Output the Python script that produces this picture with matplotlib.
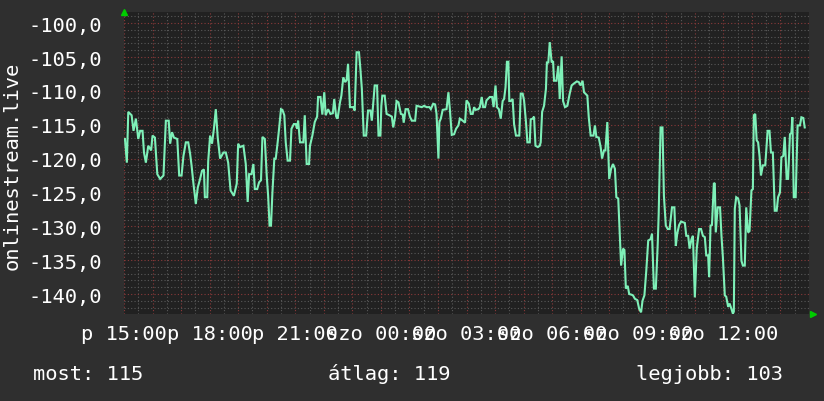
import matplotlib
matplotlib.use("Agg")
import matplotlib.pyplot as plt
from matplotlib.ticker import MultipleLocator, FuncFormatter

# minutes after Friday 15:00
time_min = [2, 6, 9, 16, 20, 25, 30, 34, 39, 42, 46, 51, 57, 60, 65, 70, 76, 83, 88, 94,
            97, 101, 105, 112, 116, 121, 125, 130, 135, 139, 142, 146, 151, 155, 160, 164, 168, 170, 175, 177,
            181, 185, 189, 193, 197, 202, 209, 214, 219, 224, 231, 237,
            240, 244, 251, 256, 260, 263, 268, 272, 275, 280, 284, 288, 291, 296, 300, 303, 306, 309,
            312, 316, 319, 323, 326, 330, 333, 337, 340, 344, 349, 352, 357, 361, 364, 366, 370, 377, 380, 384,
            389, 391, 396, 401, 406, 408, 413, 417, 421, 424, 429, 434, 439, 442, 446, 449, 454, 457, 461, 465,
            468, 471, 475, 482,
            485, 489, 494, 497, 500, 504, 509, 513, 518, 521, 524, 527, 532, 535, 539, 541, 543, 548, 552, 558,
            563, 566, 570, 573, 577, 582, 586, 588, 592, 597, 601, 605, 612, 615, 621, 626, 631, 636, 642, 645,
            650, 654, 657, 661, 663, 666, 670, 678, 682, 685, 689, 694, 698, 703, 706, 712, 717,
            720, 725, 729, 733, 736, 739, 745, 748, 752, 755, 759, 762, 769, 774, 777, 781, 784, 788, 792, 796,
            799, 802, 805, 808, 810, 813, 817, 820, 824, 831, 834, 838, 841, 845, 848, 853, 855, 859, 862, 865,
            870, 874, 876, 879, 883, 887, 889, 892, 895, 899, 902, 904, 909, 913, 916, 920, 923, 927, 932, 937,
            941, 946, 952, 956, 960, 964, 967,
            974, 977, 981, 987, 990, 993, 998, 1002, 1005, 1009, 1012, 1016, 1020, 1024, 1028, 1032, 1035, 1039, 1042, 1045,
            1049, 1052, 1055, 1059, 1062, 1067, 1070, 1074, 1079, 1083, 1087, 1090, 1094, 1098, 1102, 1107, 1110, 1114, 1118, 1122,
            1124, 1128, 1132, 1135, 1139, 1143, 1147, 1152, 1157, 1160, 1163, 1167, 1171, 1179, 1182, 1186, 1189, 1193, 1196, 1200,
            1204, 1209,
            1213, 1217, 1221, 1224, 1228, 1230, 1233, 1236, 1240, 1242, 1244, 1248, 1253, 1256, 1259, 1263, 1266, 1270, 1273, 1277,
            1280, 1282, 1284, 1287, 1291, 1294, 1298, 1301, 1305, 1308, 1312, 1315, 1319, 1322, 1324, 1327, 1330, 1333, 1336, 1339,
            1343, 1348, 1353, 1357, 1360, 1364, 1368, 1372, 1375, 1379, 1382, 1386, 1389, 1393, 1396, 1400, 1403, 1405, 1408, 1412,
            1416, 1421, 1424, 1428, 1431]

level = [-117.1, -120.6, -113.1, -113.6, -115.9, -114.1, -117.1, -115.9, -115.9, -119.1, -120.6, -118.1, -118.8, -116.6, -116.9, -122.3, -123.0, -122.5, -114.4, -114.4,
         -117.8, -116.1, -116.9, -117.1, -122.5, -122.5, -119.6, -117.6, -117.6, -119.3, -121.0, -123.7, -126.7, -124.3, -123.0, -121.8, -121.6, -125.7, -125.7, -120.4,
         -116.6, -117.8, -115.6, -112.7, -116.9, -120.0, -119.1, -119.1, -120.6, -124.7, -125.5, -123.7,
         -117.8, -118.3, -118.1, -120.8, -126.4, -122.3, -122.3, -120.8, -124.5, -124.5, -123.5, -123.2, -116.8, -117.1, -122.5, -125.5, -129.9, -129.9,
         -125.0, -120.0, -120.0, -117.6, -115.6, -112.7, -112.8, -113.6, -117.6, -120.3, -120.3, -115.6, -114.9, -114.9, -115.6, -114.4, -117.6, -117.6, -113.6, -120.8,
         -120.8, -118.1, -116.6, -114.6, -113.8, -110.9, -110.9, -113.5, -110.2, -113.6, -112.7, -113.4, -113.3, -111.2, -113.8, -114.1, -111.7, -110.7, -108.0, -108.7,
         -108.4, -106.0, -112.4, -112.4,
         -112.9, -104.3, -104.3, -106.8, -109.7, -116.6, -116.6, -112.9, -112.9, -114.4, -111.7, -109.2, -109.2, -116.6, -116.6, -112.2, -110.7, -110.7, -113.4, -113.6,
         -113.8, -115.4, -113.8, -111.5, -111.7, -113.4, -113.5, -114.7, -112.7, -112.7, -113.8, -114.4, -114.4, -112.2, -112.3, -112.4, -112.2, -112.4, -112.4, -112.7,
         -111.9, -112.0, -113.4, -120.0, -114.6, -114.1, -112.8, -112.7, -110.2, -112.7, -116.5, -116.4, -115.6, -115.1, -114.1, -114.4, -114.7,
         -111.4, -111.9, -113.4, -113.4, -112.4, -112.8, -112.7, -112.4, -110.9, -112.4, -112.4, -111.4, -110.9, -110.9, -112.4, -109.2, -112.4, -112.7, -114.1, -111.5,
         -111.2, -109.5, -105.7, -105.7, -111.5, -111.5, -111.2, -114.9, -116.6, -116.6, -110.4, -110.4, -111.4, -114.6, -117.6, -117.6, -114.2, -114.1, -113.8, -118.1,
         -118.3, -118.1, -117.6, -113.1, -112.2, -109.7, -105.8, -105.8, -102.8, -105.8, -105.6, -108.5, -108.5, -106.3, -111.2, -104.9, -111.5, -112.4, -112.2, -110.4,
         -109.2, -108.9, -108.6, -108.7, -109.2, -108.5, -110.2,
         -110.7, -113.9, -116.6, -116.6, -115.1, -116.8, -116.9, -118.3, -120.0, -118.8, -118.8, -114.6, -123.0, -121.5, -120.8, -121.5, -125.7, -125.9, -130.9, -135.8,
         -133.3, -133.5, -139.2, -138.8, -140.0, -140.1, -140.2, -140.7, -140.9, -142.2, -142.7, -141.0, -140.2, -136.5, -132.1, -131.9, -131.1, -139.2, -139.2, -132.6,
         -128.2, -115.4, -115.4, -125.5, -129.9, -130.4, -130.4, -127.2, -127.2, -132.9, -131.1, -129.8, -129.3, -129.5, -131.4, -131.4, -133.3, -131.9, -131.4, -140.5,
         -133.3, -130.4,
         -130.4, -131.4, -131.6, -134.3, -134.3, -137.5, -129.9, -129.8, -123.6, -123.7, -130.9, -127.2, -127.2, -131.4, -134.6, -140.2, -140.4, -141.9, -141.4, -142.2,
         -142.9, -142.6, -127.4, -125.7, -125.9, -126.9, -135.1, -135.8, -135.8, -127.2, -130.9, -130.7, -124.7, -124.5, -113.6, -113.4, -117.3, -117.6, -119.6, -122.5,
         -121.0, -121.0, -115.9, -115.9, -119.1, -119.1, -127.7, -127.7, -125.7, -125.0, -119.8, -119.6, -116.8, -123.0, -123.0, -116.4, -116.2, -113.9, -125.7, -125.7,
         -115.1, -115.1, -113.9, -114.0, -115.4]

tick_min = [0, 180, 360, 540, 720, 900, 1080, 1260]
tick_labels = ["p 15:00", "p 18:00", "p 21:00", "szo 00:00", "szo 03:00",
               "szo 06:00", "szo 09:00", "szo 12:00"]

y_label = "onlinestream.live"
summary_names = ["most", "átlag", "legjobb"]
summary_values = [115, 119, 103]

mono = "DejaVu Sans Mono"
fs = 14.7

fig = plt.figure(figsize=(8.24, 4.02), dpi=100, facecolor="#2f2f2f")
ax = fig.add_axes([124 / 824, 1 - 315 / 402, 685 / 824, 302 / 402])
ax.set_facecolor("#212121")

ax.set_xlim(0, 1440)
ax.set_ylim(-142.95, -98.35)

# grid: gray every 30 min / 1 unit, red every hour / 5 units
ax.xaxis.set_minor_locator(MultipleLocator(30))
ax.xaxis.set_major_locator(MultipleLocator(60))
ax.yaxis.set_minor_locator(MultipleLocator(1))
ax.yaxis.set_major_locator(MultipleLocator(5))
ax.grid(which="minor", color="#595959", linestyle=(0, (1, 2)), linewidth=0.8)
ax.grid(which="major", color="#8a3a3a", linestyle=(0, (1, 2)), linewidth=0.8)
ax.set_axisbelow(True)

ax.plot(time_min, level, color="#7ef0b8", linewidth=1.5, solid_joinstyle="miter")

# x labels only every 3 hours
ax.set_xticks(tick_min, minor=False)
ax.xaxis.set_major_locator(MultipleLocator(60))
lab = dict(zip(tick_min, tick_labels))
ax.xaxis.set_major_formatter(FuncFormatter(lambda v, p: lab.get(int(round(v)), "")))
ax.yaxis.set_major_formatter(FuncFormatter(lambda v, p: ("%.1f" % v).replace(".", ",")))

ax.tick_params(which="both", length=0, colors="white", labelsize=fs)
ax.tick_params(axis="x", pad=7)
ax.tick_params(axis="y", pad=16)
for t in ax.get_xticklabels() + ax.get_yticklabels():
    t.set_fontfamily(mono)

for s in ax.spines.values():
    s.set_visible(False)

# small green arrows at the axis ends
ax.plot([0], [1], marker="^", color="#00cc00", markersize=5, transform=ax.transAxes, clip_on=False)
ax.plot([1.006], [0], marker=">", color="#00cc00", markersize=5, transform=ax.transAxes, clip_on=False)

fig.text(12 / 824, 1 - 166 / 402, y_label, rotation=90, ha="center", va="center",
         color="white", fontsize=fs, fontfamily=mono)

xs = [33, 328, 636]
for x, n, v in zip(xs, summary_names, summary_values):
    fig.text(x / 824, 1 - 380 / 402, "%s: %d" % (n, v), ha="left", va="baseline",
             color="white", fontsize=fs, fontfamily=mono)

fig.savefig("out.png", dpi=100, facecolor=fig.get_facecolor())
